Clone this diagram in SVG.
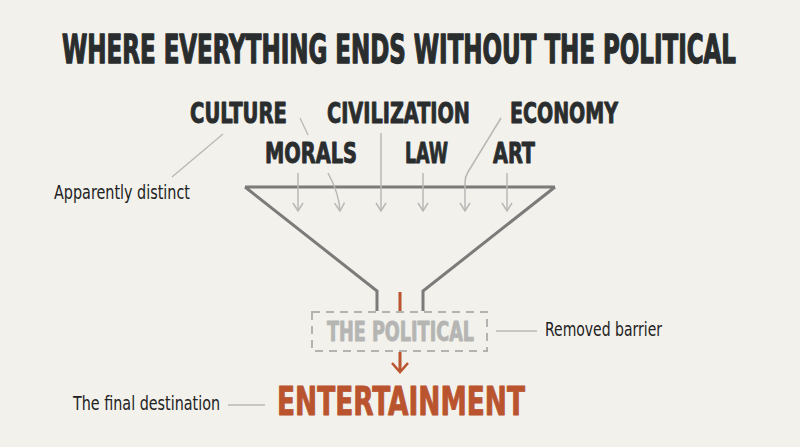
<svg xmlns="http://www.w3.org/2000/svg" width="800" height="447" viewBox="0 0 800 447">
<defs>
<style>
.h{font-family:"Liberation Sans Narrow","DejaVu Sans Condensed","Liberation Sans",sans-serif;font-weight:bold;fill:#2a2d2e;stroke:#2a2d2e;stroke-width:0.9;stroke-linejoin:round}
.s{font-family:"Liberation Sans Narrow","DejaVu Sans Condensed","Liberation Sans",sans-serif;font-size:19px;fill:#222}
.thin{fill:none;stroke:#b8b8b6;stroke-width:1.5}
.lead{fill:none;stroke:#b8b8b6;stroke-width:1.3}
.fun{fill:none;stroke:#7b7b7a;stroke-width:3;stroke-linejoin:miter}
.or{fill:none;stroke:#b9542f;stroke-width:3}
</style>
<marker id="ah" viewBox="0 0 10 12" refX="9" refY="6" markerWidth="10" markerHeight="12" markerUnits="userSpaceOnUse" orient="auto">
<path d="M1,1 L9,6 L1,11" fill="none" stroke="#b8b8b6" stroke-width="1.5"/>
</marker>
</defs>
<rect width="800" height="447" fill="#f2f1ec"/>
<g id="title"><text class="h" x="62" y="43.45" font-size="27" transform="scale(1,1.45)" textLength="674" lengthAdjust="spacingAndGlyphs">WHERE EVERYTHING ENDS WITHOUT THE POLITICAL</text></g>
<g id="culture"><text class="h" x="190" y="123" font-size="28" textLength="97" lengthAdjust="spacingAndGlyphs">CULTURE</text></g>
<g id="civilization"><text class="h" x="327" y="123" font-size="28" textLength="143" lengthAdjust="spacingAndGlyphs">CIVILIZATION</text></g>
<g id="economy"><text class="h" x="510" y="123" font-size="28" textLength="108" lengthAdjust="spacingAndGlyphs">ECONOMY</text></g>
<g id="morals"><text class="h" x="265" y="163" font-size="28" textLength="92" lengthAdjust="spacingAndGlyphs">MORALS</text></g>
<g id="law"><text class="h" x="405" y="163" font-size="28" textLength="43" lengthAdjust="spacingAndGlyphs">LAW</text></g>
<g id="art"><text class="h" x="493" y="163" font-size="28" textLength="42" lengthAdjust="spacingAndGlyphs">ART</text></g>
<g id="funnel">
<path class="fun" d="M245,187 L555,187 M245,187 L377,291 L377,311 M555,187 L423,291 L423,311"/>
</g>
<g id="connectors">
<path class="thin" d="M298,173 L298,211" marker-end="url(#ah)"/>
<path class="thin" d="M328,173 Q339,193 340,211" marker-end="url(#ah)"/>
<path class="thin" d="M381,133 L381,211" marker-end="url(#ah)"/>
<path class="thin" d="M423,173 L423,211" marker-end="url(#ah)"/>
<path class="thin" d="M501,118 L468,172 Q465,177 465,182 L465,211" marker-end="url(#ah)"/>
<path class="thin" d="M507,173 L507,211" marker-end="url(#ah)"/>
<path class="lead" d="M300,118 L308,135"/>
<path class="lead" d="M223,134 L172,177"/>
<path class="lead" d="M496,331 L537,331"/>
<path class="lead" d="M228,405 L265,405"/>
<path class="or" d="M400,292 L400,311"/>
<path class="or" d="M400,352 L400,371"/>
<path d="M392,363 L400,372 L408,363" fill="none" stroke="#b9542f" stroke-width="2.5"/>
</g>
<g id="political">
<rect x="312" y="312" width="175" height="39" fill="none" stroke="#b3b3b1" stroke-width="2" stroke-dasharray="8,6"/>
<text class="h" x="327" y="341" font-size="27" textLength="147" lengthAdjust="spacingAndGlyphs" style="fill:#b5b5b3;stroke:#b5b5b3">THE POLITICAL</text>
</g>
<g id="entertainment"><text class="h" x="277" y="415" font-size="39" textLength="248" lengthAdjust="spacingAndGlyphs" style="fill:#b9542f;stroke:#b9542f">ENTERTAINMENT</text></g>
<g id="label-distinct"><text class="s" x="54" y="199" textLength="136" lengthAdjust="spacingAndGlyphs">Apparently distinct</text></g>
<g id="label-barrier"><text class="s" x="545" y="336" textLength="117" lengthAdjust="spacingAndGlyphs">Removed barrier</text></g>
<g id="label-final"><text class="s" x="73" y="410" textLength="147" lengthAdjust="spacingAndGlyphs">The final destination</text></g>
</svg>
